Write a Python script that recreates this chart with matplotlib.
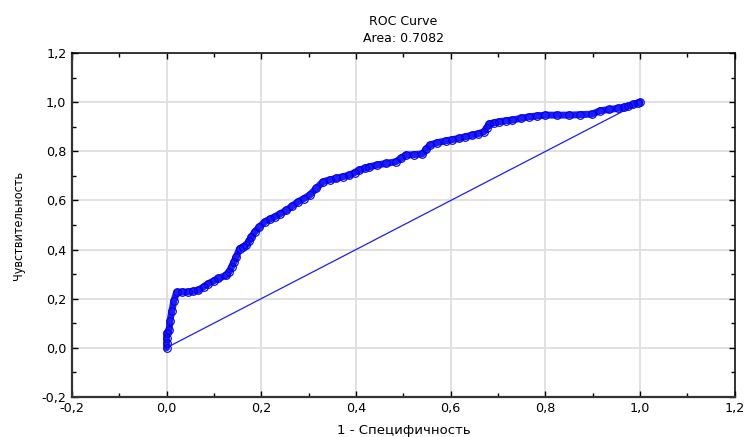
import numpy as np
import matplotlib.pyplot as plt
from matplotlib.ticker import MultipleLocator, FuncFormatter

# ROC curve points
fpr = [0.0, 0.0, 0.0, 0.0, 0.005, 0.007, 0.011, 0.015, 0.021, 0.033, 0.045, 0.056,
       0.067, 0.078, 0.088, 0.099, 0.109, 0.126, 0.132, 0.137, 0.142, 0.147, 0.154,
       0.161, 0.168, 0.174, 0.179, 0.186, 0.196, 0.207, 0.218, 0.228, 0.240, 0.253,
       0.265, 0.277, 0.290, 0.302, 0.316, 0.330, 0.344, 0.358, 0.372, 0.386, 0.397,
       0.407, 0.418, 0.428, 0.445, 0.463, 0.484, 0.495, 0.505, 0.522, 0.540, 0.548,
       0.556, 0.572, 0.589, 0.603, 0.617, 0.631, 0.645, 0.658, 0.670, 0.676, 0.681,
       0.692, 0.702, 0.716, 0.730, 0.748, 0.765, 0.783, 0.800, 0.825, 0.849, 0.874,
       0.898, 0.916, 0.935, 0.954, 0.965, 0.975, 0.986, 0.996, 1.0]
tpr = [0.0, 0.02, 0.04, 0.058, 0.07, 0.11, 0.15, 0.19, 0.225, 0.227, 0.227, 0.230,
       0.234, 0.248, 0.261, 0.272, 0.282, 0.295, 0.310, 0.329, 0.350, 0.370, 0.404,
       0.410, 0.418, 0.435, 0.451, 0.472, 0.492, 0.513, 0.524, 0.533, 0.546, 0.560,
       0.577, 0.594, 0.608, 0.622, 0.649, 0.676, 0.684, 0.690, 0.697, 0.703, 0.714,
       0.724, 0.731, 0.737, 0.745, 0.751, 0.758, 0.772, 0.785, 0.787, 0.790, 0.808,
       0.826, 0.836, 0.843, 0.848, 0.853, 0.860, 0.866, 0.872, 0.880, 0.897, 0.912,
       0.917, 0.921, 0.925, 0.928, 0.935, 0.941, 0.945, 0.948, 0.948, 0.948, 0.950,
       0.952, 0.966, 0.971, 0.976, 0.980, 0.985, 0.992, 0.998, 1.0]
diag = [0.0, 1.0]
title_lines = ['ROC Curve', 'Area: 0.7082']
xlab = '1 - Специфичность'
ylab = 'Чувствительность'

plt.rcParams['axes.unicode_minus'] = False
plt.rcParams['font.family'] = ['DejaVu Sans']

fig = plt.figure(figsize=(7.46, 4.37), dpi=100)
ax = fig.add_axes([0.0965, 0.0922, 0.8885, 0.7858])

blue = '#1c1cff'
ax.plot(diag, diag, color=blue, lw=0.9, zorder=3)
ax.plot(fpr, tpr, color=blue, lw=5.0, solid_capstyle='round', solid_joinstyle='round', zorder=4)
ax.plot(fpr, tpr, 'o', mfc='none', mec='#0000e0', ms=5.5, mew=0.8, zorder=5)

ax.set_xlim(-0.2, 1.2)
ax.set_ylim(-0.2, 1.2)
for a in (ax.xaxis, ax.yaxis):
    a.set_major_locator(MultipleLocator(0.2))
    a.set_minor_locator(MultipleLocator(0.1))
    a.set_major_formatter(FuncFormatter(lambda v, p: f'{v:.1f}'.replace('.', ',')))
ax.grid(True, which='major', color='#dedede', lw=1.3, zorder=0)
ax.set_axisbelow(True)
ax.tick_params(which='both', direction='in', top=True, right=True, labelsize=9.2, pad=4)
ax.tick_params(which='major', length=4, width=1)
ax.tick_params(which='minor', length=3, width=1)
for s in ax.spines.values():
    s.set_linewidth(1.1)
ax.spines['left'].set_color('#333333')
ax.spines['bottom'].set_color('#333333')
ax.spines['left'].set_linewidth(1.6)
ax.spines['bottom'].set_linewidth(1.6)

ax.set_title('\n'.join(title_lines), fontsize=9, linespacing=1.45, pad=8)
ax.set_xlabel(xlab, fontsize=9.5, labelpad=6)
ax.set_ylabel(ylab, fontsize=9, fontstretch='condensed', labelpad=12)

fig.savefig('out.png', dpi=100)
